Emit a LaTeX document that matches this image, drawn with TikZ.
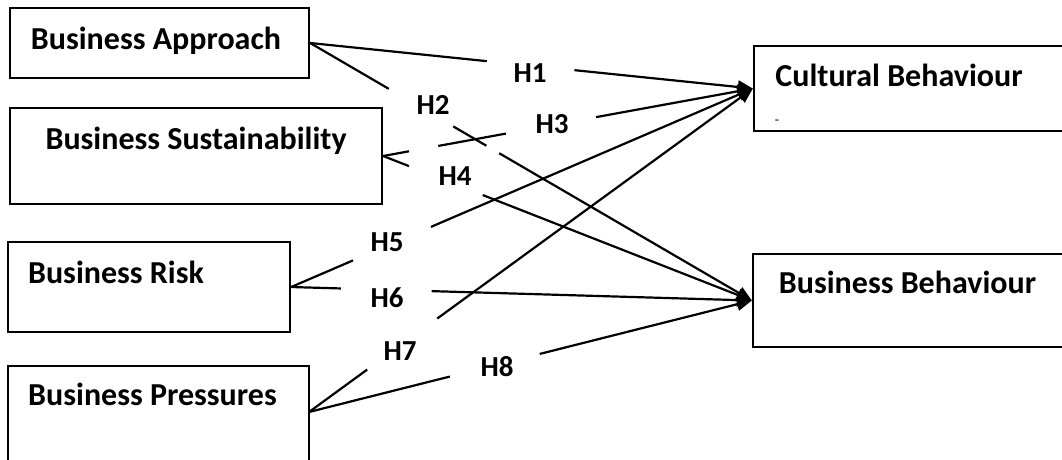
\documentclass[tikz,border=0pt]{standalone}
\usepackage{fontspec}
\setmainfont{Carlito}
\usetikzlibrary{calc,arrows.meta}
\begin{document}
\begin{tikzpicture}[x=1pt,y=-1pt,
  box/.style={draw,line width=2.3pt,rectangle,inner sep=0pt},
  title/.style={anchor=base,inner sep=0pt,font=\fontsize{32}{36}\selectfont\bfseries},
  hyp/.style={anchor=base,inner sep=0pt,font=\fontsize{29}{32}\selectfont\bfseries},
  conn/.style={line width=2.2pt},
  tip/.style={-{Triangle[length=15pt,width=13pt]}}]
\useasboundingbox (0,0) rectangle (1062,459);
% boxes
\node[box,minimum width=299pt,minimum height=70pt] (approach) at (159.5,43) {};
\node[box,minimum width=372pt,minimum height=96pt] (sustain) at (196,156) {};
\node[box,minimum width=282pt,minimum height=90pt] (risk) at (149,287) {};
\node[box,minimum width=301pt,minimum height=104pt] (press) at (158.5,418) {};
\node[box,minimum width=330pt,minimum height=85pt] (cult) at (919,88.5) {};
\node[box,minimum width=330pt,minimum height=93pt] (bb) at (918,300.5) {};
\coordinate (pE) at (309,412);
% texts
\node[title] (approachT) at (156,49) {Business Approach};
\node[title] (sustainT) at (196,149) {Business Sustainability};
\node[title] (riskT) at (116,283) {Business Risk};
\node[title] (pressT) at (152.5,405) {Business Pressures};
\node[title] (cultT) at (899,86) {Cultural Behaviour};
\node[title] (bbT) at (907.5,293) {Business Behaviour};
\node[anchor=base,inner sep=0pt,font=\fontsize{14}{16}\selectfont] (dash) at (777,124) {-};
% hypothesis labels
\node[hyp] (h1) at (530,82) {H1};
\node[hyp] (h2) at (433,114) {H2};
\node[hyp] (h3) at (552,133) {H3};
\node[hyp] (h4) at (455,185) {H4};
\node[hyp] (h5) at (387,251) {H5};
\node[hyp] (h6) at (387,307) {H6};
\node[hyp] (h7) at (400,360) {H7};
\node[hyp] (h8) at (497,376) {H8};
% H1
\draw[conn] (approach.east) -- ($(approach.east)!0.399!(cult.west)$);
\draw[conn,tip] ($(approach.east)!0.597!(cult.west)$) -- (cult.west);
% H2
\draw[conn] (approach.east) -- ($(approach.east)!0.178!(bb.west)$);
\draw[conn] ($(approach.east)!0.324!(bb.west)$) -- ($(approach.east)!0.399!(bb.west)$);
\draw[conn,tip] ($(approach.east)!0.428!(bb.west)$) -- (bb.west);
% H3
\draw[conn] (sustain.east) -- ($(sustain.east)!0.070!(cult.west)$);
\draw[conn] ($(sustain.east)!0.149!(cult.west)$) -- ($(sustain.east)!0.332!(cult.west)$);
\draw[conn,tip] ($(sustain.east)!0.576!(cult.west)$) -- (cult.west);
% H4
\draw[conn] (sustain.east) -- ($(sustain.east)!0.070!(bb.west)$);
\draw[conn,tip] ($(sustain.east)!0.270!(bb.west)$) -- (bb.west);
% H5
\draw[conn] (risk.east) -- ($(risk.east)!0.134!(cult.west)$);
\draw[conn,tip] ($(risk.east)!0.303!(cult.west)$) -- (cult.west);
% H6
\draw[conn] (risk.east) -- ($(risk.east)!0.108!(bb.west)$);
\draw[conn,tip] ($(risk.east)!0.305!(bb.west)$) -- (bb.west);
% H7
\draw[conn] (pE) -- ($(pE)!0.131!(cult.west)$);
\draw[conn,tip] ($(pE)!0.289!(cult.west)$) -- (cult.west);
% H8
\draw[conn] (pE) -- ($(pE)!0.318!(bb.west)$);
\draw[conn,tip] ($(pE)!0.521!(bb.west)$) -- (bb.west);
\end{tikzpicture}
\end{document}
